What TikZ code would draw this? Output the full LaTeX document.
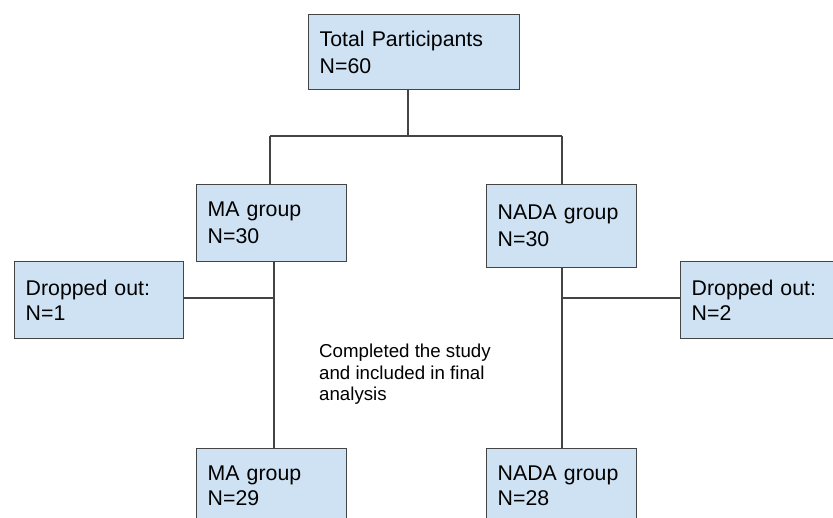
\documentclass[tikz,border=0pt]{standalone}
\usepackage{fontspec}
\setmainfont{Liberation Sans}
\definecolor{boxblue}{HTML}{CFE2F3}
\definecolor{edge}{HTML}{444444}
\begin{document}
\begin{tikzpicture}[x=1pt,y=-1pt,
  box/.style={draw=edge, fill=boxblue, line width=1.4pt, rectangle, anchor=north west,
    inner xsep=11pt, inner ysep=0pt, align=left},
  big/.style={font=\fontsize{21.3}{27}\selectfont},
  small/.style={font=\fontsize{21.3}{25}\selectfont},
  conn/.style={draw=edge, line width=1.4pt}]
\useasboundingbox (0,0) rectangle (833,518);
\clip (0,0) rectangle (833,518);
\node[box, big, text width=189pt, minimum height=75pt] (top) at (308,14) {Total Participants\\N=60};
\node[box, big, text width=128pt, minimum height=77pt] (ma) at (196,184) {MA group\\N=30};
\node[box, big, text width=128pt, minimum height=83pt] (nada) at (486,184) {NADA group\\N=30};
\node[box, small, text width=147pt, minimum height=77pt] (dl) at (14,261) {Dropped out:\\N=1};
\node[box, small, text width=132pt, minimum height=77pt] (dr) at (680,261) {Dropped out:\\N=2};
\node[box, small, text width=128pt, minimum height=75pt] (mab) at (196,448) {MA group\\N=29};
\node[box, small, text width=128pt, minimum height=75pt] (nadab) at (486,448) {NADA group\\N=28};
\node[anchor=north west, inner sep=0pt, align=left, font=\fontsize{18.7}{21.5}\selectfont] (note) at (319,344) {Completed the study\\and included in final\\analysis};
\coordinate (j) at (408,136);
\coordinate (jl) at (270,136);
\coordinate (jr) at (562,136);
\coordinate (ml) at (274,298);
\coordinate (mr) at (562,298);
\draw[conn] (top.south -| j) -- (j);
\draw[conn] (jl) -- (jr);
\draw[conn] (jl) -- (jl |- ma.north);
\draw[conn] (jr) -- (jr |- nada.north);
\draw[conn] (ma.south -| ml) -- (ml |- mab.north);
\draw[conn] (dl.east |- ml) -- (ml);
\draw[conn] (nada.south -| mr) -- (mr |- nadab.north);
\draw[conn] (mr) -- (dr.west |- mr);
\end{tikzpicture}
\end{document}
